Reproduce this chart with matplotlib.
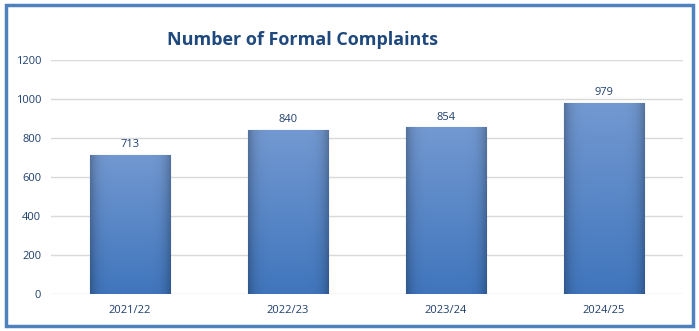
import numpy as np
import matplotlib.pyplot as plt
from matplotlib.patches import Rectangle

years = ['2021/22', '2022/23', '2023/24', '2024/25']
complaints = [713, 840, 854, 979]

text_col = '#1f3f6e'

fig = plt.figure(figsize=(6.99, 3.31), dpi=100)
ax = fig.add_axes([0.073, 0.112, 0.904, 0.707])

x = np.arange(len(years))
bars = ax.bar(x, complaints, width=0.51, color='#4a7ec2', edgecolor='#3a679f', linewidth=0.8, zorder=2)

# vertical gradient on each bar, lighter at the top
grad = np.linspace(0, 1, 256).reshape(-1, 1)
horiz = np.linspace(-1, 1, 64)
shade = 1 - 0.25 * np.abs(horiz) ** 6
for b, v in zip(bars, complaints):
    x0, y0 = b.get_x(), b.get_y()
    w, h = b.get_width(), b.get_height()
    top = np.array([0.45, 0.60, 0.82])
    bot = np.array([0.25, 0.46, 0.74])
    img = bot + (top - bot) * grad[:, :, None]
    img = img * shade[None, :, None]
    im = ax.imshow(img, extent=[x0, x0 + w, y0, y0 + h], origin='lower',
                   aspect='auto', zorder=2.5)
    im.set_clip_path(b)
    ax.text(x0 + w / 2, h + 25, str(v), ha='center', va='bottom',
            fontsize=8, color=text_col, family='Open Sans')

ax.set_xlim(-0.5, len(years) - 0.5)
ax.set_ylim(0, 1200)
ax.set_yticks(range(0, 1201, 200))
ax.set_xticks(x)
ax.set_xticklabels(years)
ax.tick_params(length=0, labelsize=8, labelcolor=text_col)
ax.xaxis.set_tick_params(pad=8)
ax.yaxis.set_tick_params(pad=7)
for lab in ax.get_xticklabels() + ax.get_yticklabels():
    lab.set_family('Open Sans')
ax.grid(axis='y', color='#d9d9d9', linewidth=1, zorder=0)
ax.set_axisbelow(True)
for s in ax.spines.values():
    s.set_visible(False)

fig.text(0.433, 0.88, 'Number of Formal Complaints', ha='center', va='center',
         fontsize=13, fontweight='bold', color='#1f497d', family='Open Sans')

fig.patches.append(Rectangle((0.009, 0.015), 0.982, 0.97, transform=fig.transFigure,
                             fill=False, edgecolor='#4f81bd', linewidth=2.5))

fig.savefig('out.png', dpi=100)
